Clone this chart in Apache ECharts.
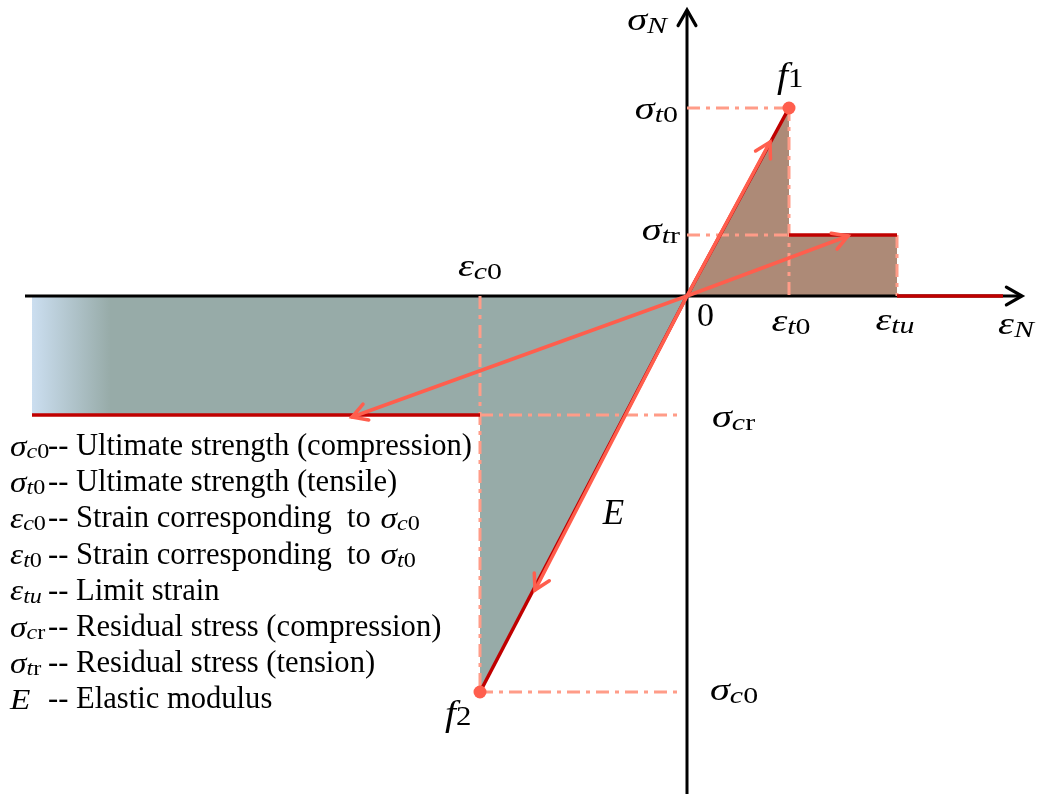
<!DOCTYPE html>
<html><head><meta charset="utf-8">
<script src="https://cdn.jsdelivr.net/npm/echarts@6/dist/echarts.min.js"></script>
<style>html,body{margin:0;padding:0;background:#fff}#c{width:1041px;height:794px}</style>
</head><body><div id="c"></div>
<script>
// ---- schematic values (strain / stress units of the sketch) ----
const strainAxis = [-662, 335];          // visible extent of the strain axis
const stressAxis = [-498, 286];          // visible extent of the stress axis
const viewX = [-687, 354];
const viewY = [-498, 296];
// key strains: eps_c0, eps_t0, eps_tu, compression plateau end, tension tail end
const keyStrain = [-207, 102, 210, -655, 316];
// key stresses: sigma_c0, sigma_t0, sigma_tr, sigma_cr
const keyStress = [-396, 188, 61, -119];
const [epsC0, epsT0, epsTu, epsEnd, epsTail] = keyStrain;
const [sigC0, sigT0, sigTr, sigCr] = keyStress;

const redSegments = [
  [[0,0],[epsT0,sigT0]], [[epsT0,sigTr],[epsTu,sigTr]], [[epsTu,0],[epsTail,0]],
  [[0,0],[epsC0,sigC0]], [[epsC0,sigCr],[epsEnd,sigCr]]
];
const tensionFill = [[0,0],[epsT0,sigT0],[epsT0,sigTr],[epsTu,sigTr],[epsTu,0]];
const compressionFill = [[epsEnd,0],[0,0],[epsC0,sigC0],[epsC0,sigCr],[epsEnd,sigCr]];
const guideLines = [
  [[0,sigT0],[epsT0,sigT0]], [[epsT0,sigT0],[epsT0,0]],
  [[0,sigTr],[epsT0,sigTr]], [[epsTu,sigTr],[epsTu,0]],
  [[epsC0,sigCr],[-10,sigCr]], [[epsC0,0],[epsC0,sigC0]], [[epsC0,sigC0],[-10,sigC0]]
];
const arrowTips = [[83,154],[161,60],[-335,-121],[-152,-294]];
const peakPoints = [[epsT0,sigT0],[epsC0,sigC0]];

const legendSymbols = [['σ','c0'],['σ','t0'],['ε','c0'],['ε','t0'],['ε','tu'],['σ','cr'],['σ','tr'],['E','']];
const legendTexts = ['-- Ultimate strength (compression)','-- Ultimate strength (tensile)',
  '-- Strain corresponding  to','-- Strain corresponding  to','-- Limit strain',
  '-- Residual stress (compression)','-- Residual stress (tension)','-- Elastic modulus'];
const legendTails = [null,null,['σ','c0'],['σ','t0'],null,null,null,null];

// ---- styling ----
const SERIF = '"Liberation Serif","Times New Roman",serif';
const BLACK = '#000', DARKRED = '#c00000', SALMON = '#ff5e4d', GUIDE = '#ff9c88';
const MSCALE = 1.3, GSCALE = 1.15;
const R = {
  m:{fontFamily:SERIF,fontStyle:'italic',fontSize:31,lineHeight:32,color:BLACK},
  f:{fontFamily:SERIF,fontStyle:'italic',fontSize:36,lineHeight:32,color:BLACK},
  u:{fontFamily:SERIF,fontSize:34,lineHeight:34,color:BLACK},
  si:{fontFamily:SERIF,fontStyle:'italic',fontSize:23,lineHeight:17,verticalAlign:'bottom',color:BLACK},
  su:{fontFamily:SERIF,fontSize:23,lineHeight:17,verticalAlign:'bottom',color:BLACK},
  fsu:{fontFamily:SERIF,fontSize:28,lineHeight:22,verticalAlign:'bottom',color:BLACK},
  e:{fontFamily:SERIF,fontStyle:'italic',fontSize:35,lineHeight:34,color:'#e2631f'},
  gm:{fontFamily:SERIF,fontStyle:'italic',fontSize:29,lineHeight:30,color:BLACK},
  gsi:{fontFamily:SERIF,fontStyle:'italic',fontSize:21,lineHeight:16,verticalAlign:'bottom',color:BLACK},
  gsu:{fontFamily:SERIF,fontSize:21,lineHeight:16,verticalAlign:'bottom',color:BLACK}
};
function subTokens(s, p){
  return s.split('').map(ch => (/[0-9r]/.test(ch) ? '{'+p+'su|' : '{'+p+'si|') + ch + '}').join('');
}
function mathText(sym, sub, big){ return big ? '{f|'+sym+'}' + subTokens(sub, 'f') : '{m|'+sym+'}' + subTokens(sub, ''); }
function legendMath(sym, sub){ return '{gm|'+sym+'}' + subTokens(sub, 'g'); }

function renderItem(params, api){
  const pt = p => api.coord(p);
  const els = [];
  const poly = (pts, style) => ({type:'polyline', shape:{points:pts.map(pt)}, style:Object.assign({fill:null}, style)});
  // fills
  els.push({type:'polygon', shape:{points:compressionFill.map(pt)}, style:{
    fill:new echarts.graphic.LinearGradient(0,0,1,0,[{offset:0,color:'#cbdef0'},{offset:0.12,color:'#97aba8'},{offset:1,color:'#97aba8'}])}});
  els.push({type:'polygon', shape:{points:tensionFill.map(pt)}, style:{fill:'#ad8a77'}});
  // axes
  els.push(poly([[strainAxis[0],0],[strainAxis[1],0]], {stroke:BLACK,lineWidth:3}));
  els.push(poly([[0,stressAxis[0]],[0,stressAxis[1]]], {stroke:BLACK,lineWidth:3}));
  // guide lines
  guideLines.forEach(g => els.push(poly(g, {stroke:GUIDE,lineWidth:3,lineDash:[13,6,4,6]})));
  // constitutive curve
  redSegments.forEach(s => els.push(poly(s, {stroke:DARKRED,lineWidth:3.5})));
  // arrows
  function chevron(a, b, color, w, head){
    const A = pt(a), B = pt(b);
    const dx=B[0]-A[0], dy=B[1]-A[1], L=Math.hypot(dx,dy), ux=dx/L, uy=dy/L;
    const ang = 0.52, c=Math.cos(ang), s=Math.sin(ang);
    const l1=[B[0]-head*(ux*c-uy*s), B[1]-head*(uy*c+ux*s)];
    const l2=[B[0]-head*(ux*c+uy*s), B[1]-head*(uy*c-ux*s)];
    return {type:'polyline', shape:{points:[l1,B,l2]}, style:{stroke:color,lineWidth:w,fill:null,lineJoin:'miter',lineCap:'round'}};
  }
  els.push(chevron([strainAxis[0],0],[strainAxis[1],0],BLACK,3.2,18));
  els.push(chevron([0,stressAxis[0]],[0,stressAxis[1]],BLACK,3.2,18));
  arrowTips.forEach(tip => {
    els.push(poly([[0,0],tip], {stroke:SALMON,lineWidth:3.5,lineCap:'round'}));
    els.push(chevron([0,0],tip,SALMON,3.5,17));
  });
  // peak points
  peakPoints.forEach(p => { const c = pt(p); els.push({type:'circle', shape:{cx:c[0],cy:c[1],r:6.5}, style:{fill:SALMON}}); });
  // labels
  const lab = (anchor, dx, dy, text, align, sx) => { const c = pt(anchor);
    els.push({type:'text', x:c[0]+dx, y:c[1]+dy, scaleX:sx||MSCALE, style:{text, rich:R, align:align||'left', verticalAlign:'middle'}}); };
  lab([0,stressAxis[1]], -20, 12, mathText('σ','N'), 'right');
  lab([0,sigT0], -9, 3, mathText('σ','t0'), 'right');
  lab([0,sigTr], -7, -3, mathText('σ','tr'), 'right');
  lab([epsT0,sigT0], -12, -30, mathText('f','1',true), 'left', 1.1);
  lab([0,0], 10, 21, '{u|0}', 'left', 1);
  lab([epsT0,0], 2, 27, mathText('ε','t0'), 'center');
  lab([epsTu,0], -2, 26, mathText('ε','tu'), 'center');
  lab([strainAxis[1],0], -24, 30, mathText('ε','N'));
  lab([epsC0,0], 0, -28, mathText('ε','c0'), 'center');
  lab([0,sigCr], 25, 4, mathText('σ','cr'));
  lab([0,sigC0], 23, 0, mathText('σ','c0'));
  lab([epsC0,sigC0], -35, 24, mathText('f','2',true), 'left', 1.1);
  lab([epsC0/2,sigC0/2], 30, 21, '{e|E}', 'center', 1);
  return {type:'group', children:els};
}

// legend block
const TFONT = '30.6px "Liberation Serif"';
const meas = document.createElement('canvas').getContext('2d');
meas.font = TFONT;
const legendGraphics = [];
legendSymbols.forEach((s, i) => {
  const base = 457 + i * 36.2;
  legendGraphics.push({type:'text', x:10, y:base-9, scaleX:GSCALE, style:{text:legendMath(s[0], s[1]), rich:R, verticalAlign:'middle'}});
  legendGraphics.push({type:'text', x:48, y:base-10, style:{text:legendTexts[i], font:TFONT, fill:BLACK, verticalAlign:'middle'}});
  if (legendTails[i]) {
    const w = meas.measureText(legendTexts[i] + ' ').width;
    legendGraphics.push({type:'text', x:48 + w + 2, y:base-9, scaleX:GSCALE, style:{text:legendMath(legendTails[i][0], legendTails[i][1]), rich:R, verticalAlign:'middle'}});
  }
});

const chart = echarts.init(document.getElementById('c'));
chart.setOption({
  animation:false,
  backgroundColor:'#fff',
  grid:{left:0,right:0,top:0,bottom:0},
  xAxis:{type:'value',min:viewX[0],max:viewX[1],show:false},
  yAxis:{type:'value',min:viewY[0],max:viewY[1],show:false},
  series:[{type:'custom', renderItem, data:[[0,0]], clip:false, silent:true}],
  graphic:legendGraphics
});
</script></body></html>
